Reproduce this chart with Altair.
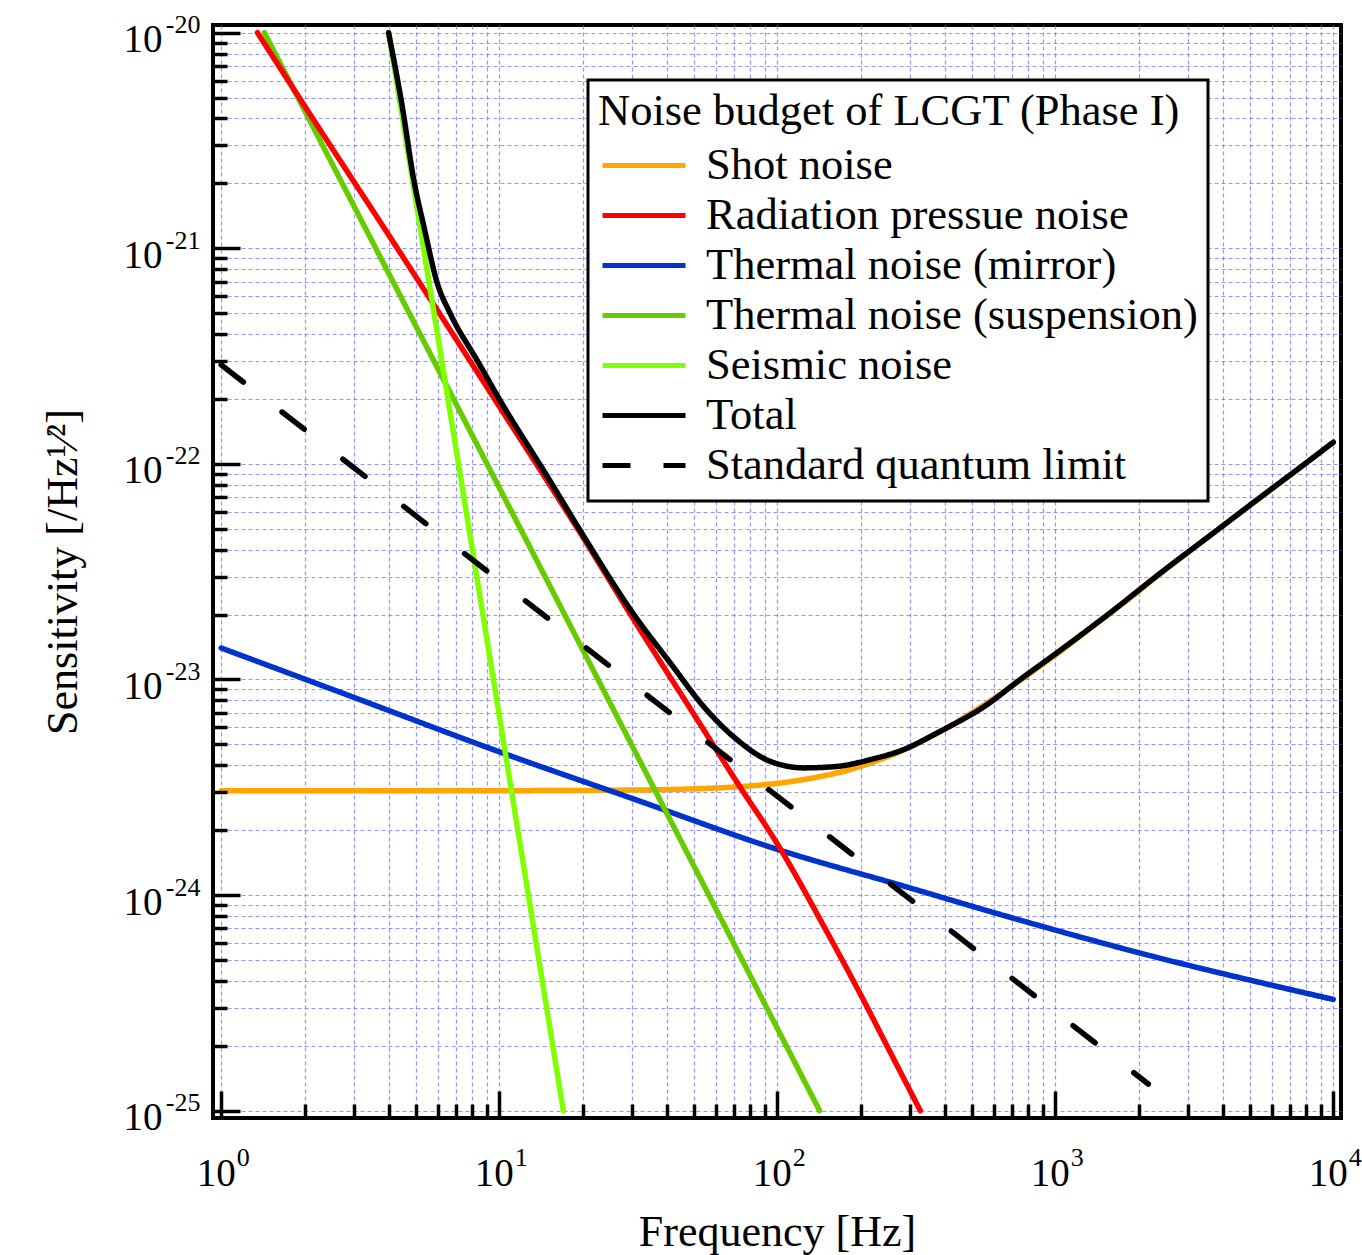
import json
import altair as alt
import pandas as pd

FONT = "Liberation Serif"

SERIES = ["Shot noise", "Radiation pressue noise", "Thermal noise (mirror)",
          "Thermal noise (suspension)", "Seismic noise", "Total",
          "Standard quantum limit"]
COLORS = ["#FFA500", "#FF0000", "#0033CC", "#66CC00", "#80FF00", "#000000", "#000000"]

SHOT_F = [1, 3, 10, 30, 50, 70, 90, 110, 140, 180, 220, 270, 330, 400, 460, 550,
          700, 850, 1050, 1300, 1600, 2000, 2400, 3000, 3600, 4500, 5500, 7000, 8500, 10000]
SHOT_H = [3.05e-24, 3.05e-24, 3.05e-24, 3.07e-24, 3.11e-24, 3.17e-24, 3.25e-24, 3.35e-24,
          3.53e-24, 3.80e-24, 4.13e-24, 4.57e-24, 5.16e-24, 5.89e-24, 6.55e-24, 7.57e-24,
          9.34e-24, 1.115e-23, 1.36e-23, 1.68e-23, 2.06e-23, 2.58e-23, 3.12e-23, 3.88e-23,
          4.64e-23, 5.78e-23, 7.03e-23, 8.9e-23, 1.075e-22, 1.26e-22]

RAD_F = [1.35, 2, 4.3, 10, 20, 30.5, 50, 73.6, 100, 150, 200, 250, 327]
RAD_H = [1.0e-20, 4.55e-21, 1.0e-21, 1.85e-22, 4.57e-23, 1.89e-23, 6.93e-24, 3.16e-24,
         1.73e-24, 6.84e-25, 3.43e-25, 1.96e-25, 1.0e-25]

MIRROR_F = [1, 3, 10, 30, 100, 300, 634, 2000, 10000]
MIRROR_H = [1.40e-23, 8.26e-24, 4.62e-24, 2.81e-24, 1.63e-24, 1.08e-24, 8.13e-25,
            5.40e-25, 3.28e-25]

SUSP_F = [1.43, 10, 142]
SUSP_H = [1.0e-20, 7.76e-23, 1.0e-25]

SEIS_F = [4.0, 17.0]
SEIS_H = [1.0e-20, 1.0e-25]

TOTAL_F = [4.0, 4.48, 4.93, 5.36, 5.98, 6.68, 8.33, 10, 15, 20, 30.5, 41.3, 54.3, 71.6,
           94.4, 124.5, 164, 216, 285, 376, 568, 748, 1050, 1600, 2400, 3600, 5500,
           7500, 10000]
TOTAL_H = [1.0e-20, 4.54e-21, 2.07e-21, 1.26e-21, 6.92e-22, 4.95e-22, 3.02e-22, 2.00e-22,
           8.61e-23, 4.68e-23, 2.00e-23, 1.19e-23, 7.50e-24, 5.26e-24, 4.17e-24, 3.89e-24,
           3.95e-24, 4.25e-24, 4.73e-24, 5.65e-24, 7.64e-24, 1.0e-23, 1.375e-23, 2.07e-23,
           3.13e-23, 4.65e-23, 7.04e-23, 9.5e-23, 1.26e-22]

SQL_F = [1, 2160]
SQL_H = [2.88e-22, 1.33e-25]

TICK_BASE = "10"
X_EXP = ["0", "1", "2", "3", "4"]
Y_EXP = ["-20", "-21", "-22", "-23", "-24", "-25"]

X_TICKS = [m * 10 ** k for k in range(0, 4) for m in range(1, 10)] + [10000]
Y_TICKS = [m * 10.0 ** k for k in range(-25, -20) for m in range(1, 10)] + [1e-20]
X_MAJOR = [1, 10, 100, 1000, 10000]
Y_MAJOR = [1e-25, 1e-24, 1e-23, 1e-22, 1e-21, 1e-20]

series_data = {
    SERIES[0]: (SHOT_F, SHOT_H),
    SERIES[1]: (RAD_F, RAD_H),
    SERIES[2]: (MIRROR_F, MIRROR_H),
    SERIES[3]: (SUSP_F, SUSP_H),
    SERIES[4]: (SEIS_F, SEIS_H),
    SERIES[5]: (TOTAL_F, TOTAL_H),
    SERIES[6]: (SQL_F, SQL_H),
}
rows = []
for name, (fs, hs) in series_data.items():
    for f, h in zip(fs, hs):
        rows.append({"series": name, "f": f, "h": h})
df = pd.DataFrame(rows)

W, H = 1128, 1093
XMIN, XMAX = 10 ** -0.0295, 10 ** 4.0277
YMIN, YMAX = 10 ** -25.034, 10 ** -19.9643

xscale = alt.Scale(type="log", domain=[XMIN, XMAX], nice=False)
yscale = alt.Scale(type="log", domain=[YMIN, YMAX], nice=False)

LOG10 = "(log(datum.value)/LN10)"
MAJOR = f"abs({LOG10} - round({LOG10})) < 1e-6"

label_style = dict(labelFont=FONT, labelColor="black", labelOverlap=False,
                   labelFlush=False, labelBound=False, ticks=False, tickSize=0,
                   domain=False)

# base "10" labels + grid + title
x_main_axis = alt.Axis(
    orient="bottom", values=X_TICKS, title="Frequency [Hz]",
    labelExpr=f"{MAJOR} ? '{TICK_BASE}' : ''", labelFontSize=39, labelAlign="right",
    labelOffset=14, labelPadding=36,
    grid=True, gridColor="#7070FF", gridOpacity=0.75, gridDash=[4, 3], gridWidth=1.2,
    titleFont=FONT, titleFontSize=44, titleFontWeight="normal", titleColor="black",
    titlePadding=17, zindex=0, **label_style)
y_main_axis = alt.Axis(
    orient="left", values=Y_TICKS, title="Sensitivity [/Hz¹⁄²]",
    labelExpr=f"{MAJOR} ? '{TICK_BASE}' : ''", labelFontSize=39, labelAlign="right",
    labelOffset=7, labelPadding=51,
    grid=True, gridColor="#7070FF", gridOpacity=0.75, gridDash=[4, 3], gridWidth=1.2,
    titleFont=FONT, titleFontSize=44, titleFontWeight="normal", titleColor="black",
    titlePadding=38, zindex=0, **label_style)

# inward ticks
tick_size = {"condition": {"test": MAJOR, "value": 27}, "value": 14}
x_tick_axis = alt.Axis(orient="top", offset=-H, values=X_TICKS, tickSize=tick_size,
                       tickWidth=3.5, tickColor="black", labels=False, grid=False,
                       domain=False, title=None, zindex=1)
y_tick_axis = alt.Axis(orient="right", offset=-W, values=Y_TICKS, tickSize=tick_size,
                       tickWidth=3.5, tickColor="black", labels=False, grid=False,
                       domain=False, title=None, zindex=1)

# exponents
x_exp_axis = alt.Axis(
    orient="bottom", values=X_MAJOR, grid=False, title=None,
    labelExpr=f"{json.dumps(X_EXP)}[round({LOG10})]", labelFontSize=26,
    labelAlign="left", labelOffset=15, labelPadding=26, zindex=0, **label_style)
y_exp_axis = alt.Axis(
    orient="left", values=Y_MAJOR, grid=False, title=None,
    labelExpr=f"{json.dumps(Y_EXP)}[-round({LOG10}) - 20]", labelFontSize=26,
    labelAlign="right", labelOffset=-8, labelPadding=13, zindex=0, **label_style)

legend = alt.Legend(
    orient="none", legendX=588 - 213, legendY=80 - 25, direction="vertical",
    title="Noise budget of LCGT (Phase I)", titleFont=FONT, titleFontSize=44.5,
    titleFontWeight="normal", titleColor="black", titlePadding=6, titleLimit=2000,
    labelFont=FONT, labelFontSize=44.5, labelColor="black", labelOffset=18,
    symbolType="stroke", symbolSize=6889, symbolStrokeWidth=5, symbolOffset=2,
    clipHeight=50, rowPadding=0, labelLimit=2000)

cscale = alt.Scale(domain=SERIES, range=COLORS)
dscale = alt.Scale(domain=SERIES, range=[[1, 0]] * 6 + [[28, 33]])

DRAW_ORDER = [SERIES[0], SERIES[2], SERIES[3], SERIES[1], SERIES[4], SERIES[5], SERIES[6]]

layers = []
for i, name in enumerate(DRAW_ORDER):
    if i == 0:
        xa, ya = x_main_axis, y_main_axis
    elif i == 1:
        xa, ya = x_tick_axis, y_tick_axis
    elif i == 2:
        xa, ya = x_exp_axis, y_exp_axis
    else:
        xa, ya = None, None
    enc = dict(
        x=alt.X("f:Q", scale=xscale, axis=xa),
        y=alt.Y("h:Q", scale=yscale, axis=ya),
        color=alt.Color("series:N", scale=cscale, legend=legend),
        order=alt.Order("f:Q"),
    )
    if name == SERIES[6]:
        enc["strokeDash"] = alt.value([28, 49])
    else:
        enc["strokeDash"] = alt.StrokeDash("series:N", scale=dscale, legend=legend)
    layer = (alt.Chart(df)
             .transform_filter(alt.datum.series == name)
             .mark_line(strokeWidth=5.5, strokeCap="round", strokeJoin="round",
                        interpolate="monotone")
             .encode(**enc))
    layers.append(layer)

chart = (alt.layer(*layers)
         .resolve_axis(x="independent", y="independent")
         .properties(width=W, height=H,
                     autosize=alt.AutoSizeParams(type="none"),
                     padding={"left": 213, "top": 25, "right": 21, "bottom": 137},
                     background="white")
         .configure(font=FONT)
         .configure_view(stroke="black", strokeWidth=4)
         .configure_legend(strokeColor="black", strokeWidth=3, fillColor="white",
                           padding=10))

chart.save("out.html", embed_options={"renderer": "svg", "actions": False})
